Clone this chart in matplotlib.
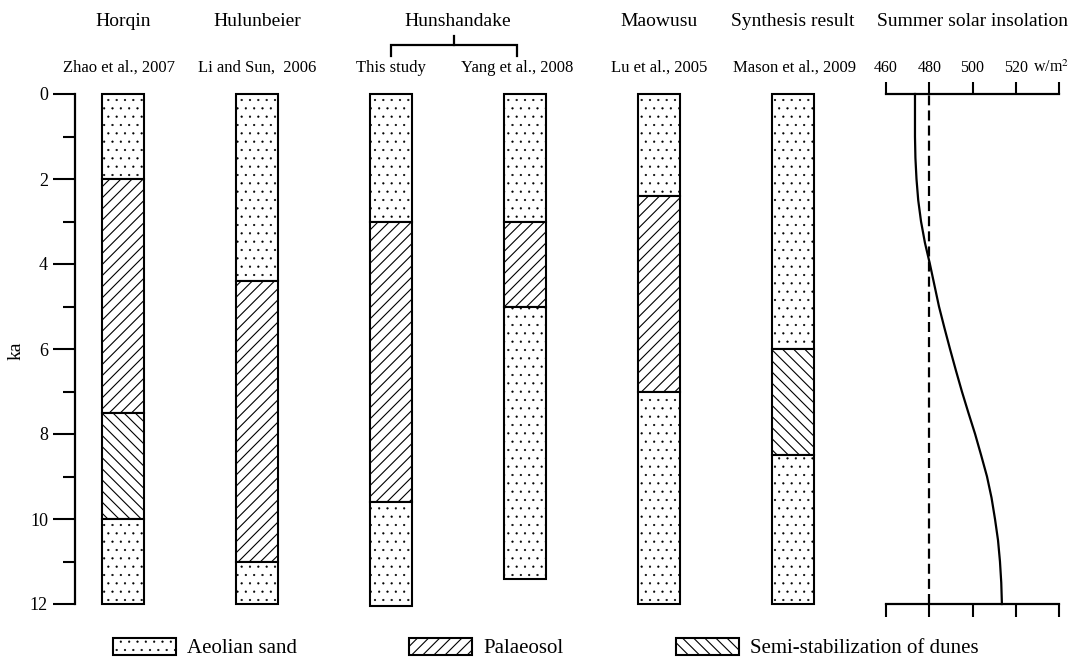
import matplotlib
matplotlib.use('Agg')
import matplotlib.pyplot as plt
from matplotlib.patches import Patch
from matplotlib.transforms import blended_transform_factory, ScaledTranslation
from matplotlib.ticker import MultipleLocator, FixedLocator

plt.rcParams['font.family'] = ['Liberation Serif', 'DejaVu Serif']
plt.rcParams['mathtext.fontset'] = 'stix'
plt.rcParams['hatch.linewidth'] = 0.8

# ---------------- data ----------------
regions = ["Horqin", "Hulunbeier", "Hunshandake", "Maowusu", "Synthesis result"]
sources = ["Zhao et al., 2007", "Li and Sun,  2006", "This study",
           "Yang et al., 2008", "Lu et al., 2005", "Mason et al., 2009"]

# layer boundaries (ka) for each column, top to bottom
boundaries = [
    [0, 2.0, 7.5, 10.0, 12.0],
    [0, 4.4, 11.0, 12.0],
    [0, 3.0, 9.6, 12.05],
    [0, 3.0, 5.0, 11.4],
    [0, 2.4, 7.0, 12.0],
    [0, 6.0, 8.5, 12.0],
]
layers = [
    ["sand", "soil", "semi", "sand"],
    ["sand", "soil", "sand"],
    ["sand", "soil", "sand"],
    ["sand", "soil", "sand"],
    ["sand", "soil", "sand"],
    ["sand", "semi", "sand"],
]
layer_labels = {"sand": "Aeolian sand", "soil": "Palaeosol",
                "semi": "Semi-stabilization of dunes"}
layer_hatch = {"sand": "..", "soil": "///", "semi": "\\\\\\"}
layer_hatch_lw = {"sand": 0.35, "soil": 0.8, "semi": 0.8}

# summer solar insolation (w/m2) vs age (ka)
ins_age = [0, 0.5, 1, 1.5, 2, 2.5, 3, 3.5, 4, 4.5, 5, 5.5, 6,
           6.5, 7, 7.5, 8, 8.5, 9, 9.5, 10, 10.5, 11, 11.5, 12]
ins_val = [473.4, 473.4, 473.4, 473.6, 474.1, 474.9, 476.2, 478.0, 480.3,
           482.4, 484.5, 487.0, 489.6, 492.3, 495.1, 498.1, 501.2, 504.0,
           506.7, 508.8, 510.4, 511.8, 512.7, 513.3, 513.6]
ins_ref = 480
ins_ticks = [460, 480, 500, 520, 540]
ins_ticklabels = ["460", "480", "500", "520", "w/m$^2$"]

age_major = [0, 2, 4, 6, 8, 10, 12]

# ---------------- figure ----------------
W, H = 1070, 659
fig = plt.figure(figsize=(W / 100, H / 100), dpi=100)


def px(x0, y0, x1, y1):
    return [x0 / W, 1 - y1 / H, (x1 - x0) / W, (y1 - y0) / H]


def set_hlw(patch, lw):
    if hasattr(patch, 'set_hatch_linewidth'):
        patch.set_hatch_linewidth(lw)
    else:
        patch._hatch_linewidth = lw


ax = fig.add_axes(px(75, 94, 840, 604))
ax.set_xlim(-0.358, 5.351)
ax.set_ylim(12, 0)

colw = 0.32
for i, (b, lay) in enumerate(zip(boundaries, layers)):
    for top, bot, t in zip(b[:-1], b[1:], lay):
        with plt.rc_context({'hatch.linewidth': layer_hatch_lw[t]}):
            bars = ax.bar(i, bot - top, bottom=top, width=colw,
                          facecolor='white', edgecolor='black', linewidth=1.5,
                          hatch=layer_hatch[t], clip_on=False, zorder=2)
        for p in bars:
            set_hlw(p, layer_hatch_lw[t])

for s in ['top', 'right', 'bottom']:
    ax.spines[s].set_visible(False)
ax.spines['left'].set_linewidth(1.6)
ax.set_xticks([])
ax.yaxis.set_major_locator(FixedLocator(age_major))
ax.yaxis.set_minor_locator(MultipleLocator(1))
ax.tick_params(axis='y', which='major', length=15.5, width=1.5, pad=4,
               labelsize=13)
ax.tick_params(axis='y', which='minor', length=8.6, width=1.5)
ax.set_ylabel('ka', fontsize=14)
ax.yaxis.set_label_coords(-0.066, 0.496)

trans = blended_transform_factory(ax.transData, fig.transFigure)
title_y = 1 - 22 / H
sub_y = 1 - 68 / H

title_x = [0, 1, 2.5, 4, 5]
for x, t in zip(title_x, regions):
    ax.text(x, title_y, t, transform=trans, ha='center', va='center',
            fontsize=14)

sub_x = [-0.03, 1, 2, 2.94, 4, 5.01]
for x, t in zip(sub_x, sources):
    ax.text(x, sub_y, t, transform=trans, ha='center', va='center',
            fontsize=12)

# bracket for Hunshandake
yb, yh, yt = 1 - 56 / H, 1 - 45 / H, 1 - 36 / H
xa, xb = sub_x[2], sub_x[3]
ax.plot([xa, xa, xb, xb], [yb, yh, yh, yb], color='black', lw=1.6,
        transform=trans, clip_on=False, solid_joinstyle='miter')
ax.plot([(xa + xb) / 2] * 2, [yh, yt], color='black', lw=1.6,
        transform=trans, clip_on=False)

# ---------------- insolation panel ----------------
ax2 = fig.add_axes(px(886, 94, 1059, 604))
ax2.set_xlim(460, 540)
ax2.set_ylim(12, 0)
ax2.plot(ins_val, ins_age, color='black', lw=1.6, clip_on=False)
ax2.axvline(ins_ref, color='black', lw=1.6, ls=(0, (4.5, 2.3)))
ax2.spines['left'].set_visible(False)
ax2.spines['right'].set_visible(False)
ax2.spines['top'].set_linewidth(1.6)
ax2.spines['bottom'].set_linewidth(1.6)
ax2.set_yticks([])
ax2.set_xticks(ins_ticks)
ax2.set_xticklabels(ins_ticklabels)
ax2.tick_params(axis='x', which='both', top=True, bottom=True, labeltop=True,
                labelbottom=False, direction='out', length=9, width=1.5,
                pad=4, labelsize=11.5)
fig.canvas.draw()
lab = ax2.xaxis.get_major_ticks()[-1].label2
lab.set_transform(lab.get_transform() +
                  ScaledTranslation(-0.08, 0, fig.dpi_scale_trans))
ax2.text(0.5, title_y, "Summer solar insolation",
         transform=blended_transform_factory(ax2.transAxes, fig.transFigure),
         ha='center', va='center', fontsize=14)

# ---------------- legend ----------------
handles = []
for k in ["sand", "soil", "semi"]:
    p = Patch(facecolor='white', edgecolor='black', linewidth=1.5,
              hatch=layer_hatch[k], label=layer_labels[k])
    set_hlw(p, layer_hatch_lw[k])
    handles.append(p)
leg = fig.legend(handles=handles, ncol=3, loc='center left',
                 bbox_to_anchor=(113 / W, 1 - 648 / H), frameon=False,
                 fontsize=15, handlelength=3.0, handleheight=0.9,
                 handletextpad=0.55, columnspacing=5.4, borderpad=0,
                 borderaxespad=0)
for lp, k in zip(leg.get_patches(), ["sand", "soil", "semi"]):
    set_hlw(lp, layer_hatch_lw[k])

fig.savefig('out.png', dpi=100)
